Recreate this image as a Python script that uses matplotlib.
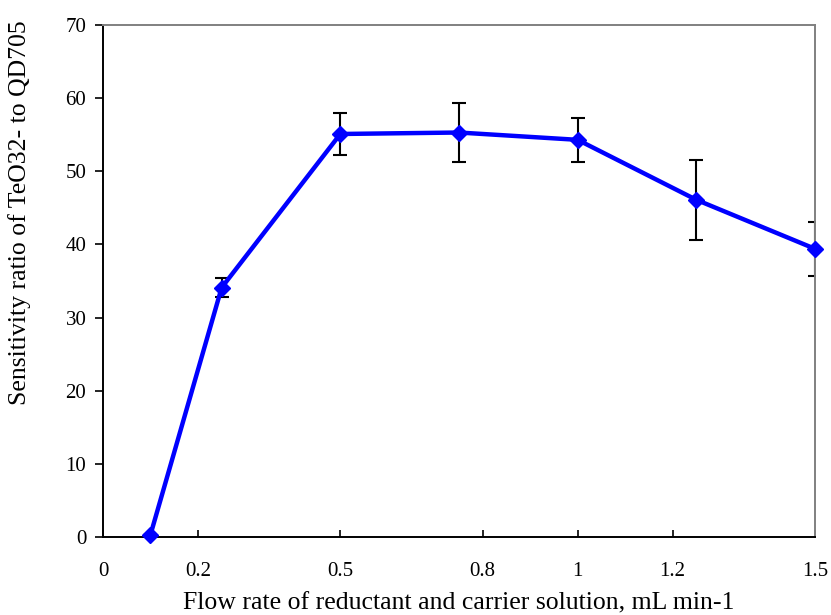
import matplotlib
matplotlib.use('Agg')
import matplotlib.pyplot as plt
import numpy as np

# flow rate (mL/min) and sensitivity ratio
flow = [0.1, 0.25, 0.5, 0.75, 1.0, 1.25, 1.5]
ratio = [0.3, 34.1, 55.1, 55.3, 54.3, 46.1, 39.4]
err = [0.0, 1.35, 2.9, 4.05, 3.05, 5.5, 3.7]

xticks = [0, 0.2, 0.5, 0.8, 1, 1.2, 1.5]
xlabels = ['0', '0.2', '0.5', '0.8', '1', '1.2', '1.5']
yticks = [0, 10, 20, 30, 40, 50, 60, 70]

plt.rcParams['font.family'] = ['Liberation Serif', 'DejaVu Serif']

fig = plt.figure(figsize=(8.31, 6.15), dpi=100)
ax = fig.add_axes([103/831, 78/615, 712/831, 512/615])

ax.errorbar(flow, ratio, yerr=err, fmt='none', ecolor='black',
            elinewidth=1.5, capsize=4.7, capthick=1.5, zorder=2)
ax.plot(flow, ratio, color='#0000ff', linewidth=3.2, marker='D',
        markersize=8, zorder=3, clip_on=False)

ax.set_xlim(0, 1.5)
ax.set_ylim(0, 70)
ax.set_xticks(xticks)
ax.set_xticklabels(xlabels)
ax.set_yticks(yticks)

ax.tick_params(axis='x', direction='in', length=5, width=1.2, pad=18, labelsize=15)
ax.tick_params(axis='y', direction='out', length=6, width=1.2, pad=6, labelsize=15)

for side in ['left', 'bottom']:
    ax.spines[side].set_color('black')
    ax.spines[side].set_linewidth(1.4)
for side in ['top', 'right']:
    ax.spines[side].set_color('#808080')
    ax.spines[side].set_linewidth(1.4)

ax.set_xlabel('Flow rate of reductant and carrier solution, mL min-1', fontsize=18.5, labelpad=8)
fig.text(20/831, 1 - 213/615, 'Sensitivity ratio of TeO32- to QD705', fontsize=18.5,
         rotation=90, ha='center', va='center')

fig.savefig('out.png', dpi=100)
